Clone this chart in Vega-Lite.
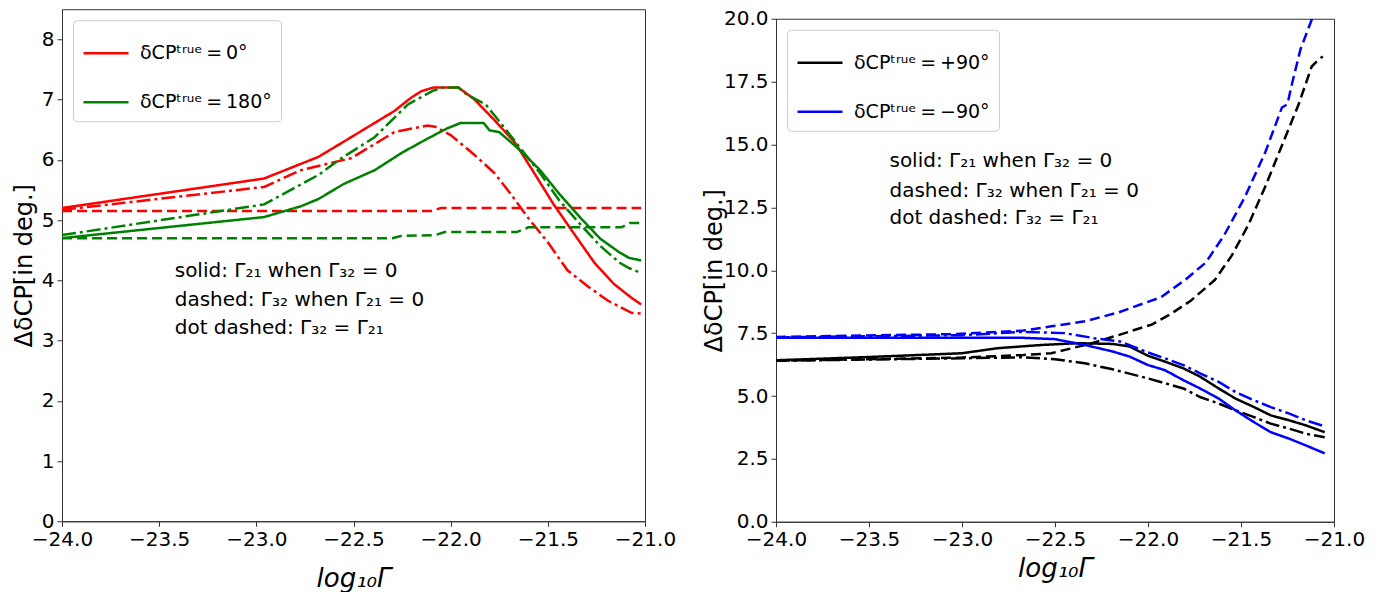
{
  "$schema": "https://vega.github.io/schema/vega-lite/v6.json",
  "padding": {"left": 11, "top": 8, "right": 5, "bottom": 5},
  "background": "white",
  "config": {
    "font": "DejaVu Sans",
    "view": {"stroke": "#333", "strokeWidth": 1},
    "axis": {"grid": false, "domainColor": "#333", "tickColor": "#333", "labelColor": "#000", "titleColor": "#000", "labelFont": "DejaVu Sans", "labelFontSize": 20, "titleFont": "DejaVu Sans", "titleFontWeight": "normal", "tickSize": 5, "labelPadding": 3, "labelFlush": false, "labelOverlap": false},
    "line": {"strokeWidth": 2.5}
  },
  "spacing": 24,
  "center": true,
  "resolve": {"scale": {"x": "independent", "y": "independent", "color": "independent"}, "axis": {"x": "independent", "y": "independent"}, "legend": {"color": "independent"}},
  "datasets": {
    "left": [
      {"c": "0", "s": "solid", "x": -24, "y": 5.2}, {"c": "0", "s": "solid", "x": -22.96, "y": 5.69}, {"c": "0", "s": "solid", "x": -22.68, "y": 6.05}, {"c": "0", "s": "solid", "x": -22.51, "y": 6.38}, {"c": "0", "s": "solid", "x": -22.29, "y": 6.81}, {"c": "0", "s": "solid", "x": -22.2, "y": 7.04}, {"c": "0", "s": "solid", "x": -22.15, "y": 7.14}, {"c": "0", "s": "solid", "x": -22.09, "y": 7.2}, {"c": "0", "s": "solid", "x": -21.96, "y": 7.2}, {"c": "0", "s": "solid", "x": -21.88, "y": 7.01}, {"c": "0", "s": "solid", "x": -21.775, "y": 6.66}, {"c": "0", "s": "solid", "x": -21.67, "y": 6.29}, {"c": "0", "s": "solid", "x": -21.57, "y": 5.78}, {"c": "0", "s": "solid", "x": -21.47, "y": 5.26}, {"c": "0", "s": "solid", "x": -21.36, "y": 4.75}, {"c": "0", "s": "solid", "x": -21.26, "y": 4.29}, {"c": "0", "s": "solid", "x": -21.16, "y": 3.94}, {"c": "0", "s": "solid", "x": -21.07, "y": 3.71}, {"c": "0", "s": "solid", "x": -21.02, "y": 3.6},
      {"c": "0", "s": "dashed", "x": -24, "y": 5.15}, {"c": "0", "s": "dashed", "x": -22.1, "y": 5.15}, {"c": "0", "s": "dashed", "x": -22.05, "y": 5.2}, {"c": "0", "s": "dashed", "x": -21.02, "y": 5.2},
      {"c": "0", "s": "dashdot", "x": -24, "y": 5.17}, {"c": "0", "s": "dashdot", "x": -22.96, "y": 5.55}, {"c": "0", "s": "dashdot", "x": -22.77, "y": 5.83}, {"c": "0", "s": "dashdot", "x": -22.51, "y": 6.03}, {"c": "0", "s": "dashdot", "x": -22.29, "y": 6.46}, {"c": "0", "s": "dashdot", "x": -22.12, "y": 6.57}, {"c": "0", "s": "dashdot", "x": -22.08, "y": 6.55}, {"c": "0", "s": "dashdot", "x": -22.0, "y": 6.41}, {"c": "0", "s": "dashdot", "x": -21.88, "y": 6.09}, {"c": "0", "s": "dashdot", "x": -21.775, "y": 5.78}, {"c": "0", "s": "dashdot", "x": -21.69, "y": 5.43}, {"c": "0", "s": "dashdot", "x": -21.6, "y": 5.03}, {"c": "0", "s": "dashdot", "x": -21.5, "y": 4.63}, {"c": "0", "s": "dashdot", "x": -21.4, "y": 4.17}, {"c": "0", "s": "dashdot", "x": -21.29, "y": 3.89}, {"c": "0", "s": "dashdot", "x": -21.19, "y": 3.66}, {"c": "0", "s": "dashdot", "x": -21.07, "y": 3.46}, {"c": "0", "s": "dashdot", "x": -21.02, "y": 3.45},
      {"c": "180", "s": "solid", "x": -24, "y": 4.7}, {"c": "180", "s": "solid", "x": -22.96, "y": 5.05}, {"c": "180", "s": "solid", "x": -22.77, "y": 5.23}, {"c": "180", "s": "solid", "x": -22.68, "y": 5.35}, {"c": "180", "s": "solid", "x": -22.55, "y": 5.6}, {"c": "180", "s": "solid", "x": -22.39, "y": 5.83}, {"c": "180", "s": "solid", "x": -22.25, "y": 6.12}, {"c": "180", "s": "solid", "x": -22.12, "y": 6.35}, {"c": "180", "s": "solid", "x": -22.02, "y": 6.52}, {"c": "180", "s": "solid", "x": -21.95, "y": 6.61}, {"c": "180", "s": "solid", "x": -21.83, "y": 6.61}, {"c": "180", "s": "solid", "x": -21.8, "y": 6.49}, {"c": "180", "s": "solid", "x": -21.75, "y": 6.46}, {"c": "180", "s": "solid", "x": -21.65, "y": 6.18}, {"c": "180", "s": "solid", "x": -21.54, "y": 5.83}, {"c": "180", "s": "solid", "x": -21.44, "y": 5.43}, {"c": "180", "s": "solid", "x": -21.33, "y": 5.03}, {"c": "180", "s": "solid", "x": -21.23, "y": 4.69}, {"c": "180", "s": "solid", "x": -21.13, "y": 4.46}, {"c": "180", "s": "solid", "x": -21.08, "y": 4.37}, {"c": "180", "s": "solid", "x": -21.02, "y": 4.33},
      {"c": "180", "s": "dashed", "x": -24, "y": 4.7}, {"c": "180", "s": "dashed", "x": -22.3, "y": 4.7}, {"c": "180", "s": "dashed", "x": -22.25, "y": 4.74}, {"c": "180", "s": "dashed", "x": -22.08, "y": 4.75}, {"c": "180", "s": "dashed", "x": -22.03, "y": 4.8}, {"c": "180", "s": "dashed", "x": -21.66, "y": 4.8}, {"c": "180", "s": "dashed", "x": -21.6, "y": 4.88}, {"c": "180", "s": "dashed", "x": -21.12, "y": 4.88}, {"c": "180", "s": "dashed", "x": -21.08, "y": 4.95}, {"c": "180", "s": "dashed", "x": -21.02, "y": 4.95},
      {"c": "180", "s": "dashdot", "x": -24, "y": 4.75}, {"c": "180", "s": "dashdot", "x": -22.96, "y": 5.26}, {"c": "180", "s": "dashdot", "x": -22.68, "y": 5.75}, {"c": "180", "s": "dashdot", "x": -22.57, "y": 6.01}, {"c": "180", "s": "dashdot", "x": -22.39, "y": 6.38}, {"c": "180", "s": "dashdot", "x": -22.22, "y": 6.92}, {"c": "180", "s": "dashdot", "x": -22.09, "y": 7.15}, {"c": "180", "s": "dashdot", "x": -22.04, "y": 7.2}, {"c": "180", "s": "dashdot", "x": -21.96, "y": 7.2}, {"c": "180", "s": "dashdot", "x": -21.92, "y": 7.09}, {"c": "180", "s": "dashdot", "x": -21.82, "y": 6.92}, {"c": "180", "s": "dashdot", "x": -21.75, "y": 6.64}, {"c": "180", "s": "dashdot", "x": -21.65, "y": 6.23}, {"c": "180", "s": "dashdot", "x": -21.54, "y": 5.78}, {"c": "180", "s": "dashdot", "x": -21.44, "y": 5.32}, {"c": "180", "s": "dashdot", "x": -21.33, "y": 4.92}, {"c": "180", "s": "dashdot", "x": -21.23, "y": 4.57}, {"c": "180", "s": "dashdot", "x": -21.13, "y": 4.29}, {"c": "180", "s": "dashdot", "x": -21.08, "y": 4.2}, {"c": "180", "s": "dashdot", "x": -21.02, "y": 4.12}
    ],
    "right": [
      {"c": "+90", "s": "solid", "x": -24, "y": 6.42}, {"c": "+90", "s": "solid", "x": -23.5, "y": 6.55}, {"c": "+90", "s": "solid", "x": -23.0, "y": 6.7}, {"c": "+90", "s": "solid", "x": -22.81, "y": 6.9}, {"c": "+90", "s": "solid", "x": -22.57, "y": 7.03}, {"c": "+90", "s": "solid", "x": -22.38, "y": 7.1}, {"c": "+90", "s": "solid", "x": -22.19, "y": 7.07}, {"c": "+90", "s": "solid", "x": -22.1, "y": 6.97}, {"c": "+90", "s": "solid", "x": -22.0, "y": 6.6}, {"c": "+90", "s": "solid", "x": -21.91, "y": 6.37}, {"c": "+90", "s": "solid", "x": -21.81, "y": 6.1}, {"c": "+90", "s": "solid", "x": -21.72, "y": 5.77}, {"c": "+90", "s": "solid", "x": -21.62, "y": 5.3}, {"c": "+90", "s": "solid", "x": -21.53, "y": 4.9}, {"c": "+90", "s": "solid", "x": -21.43, "y": 4.56}, {"c": "+90", "s": "solid", "x": -21.34, "y": 4.23}, {"c": "+90", "s": "solid", "x": -21.24, "y": 4.03}, {"c": "+90", "s": "solid", "x": -21.15, "y": 3.83}, {"c": "+90", "s": "solid", "x": -21.05, "y": 3.56},
      {"c": "+90", "s": "dashed", "x": -24, "y": 6.4}, {"c": "+90", "s": "dashed", "x": -23.0, "y": 6.53}, {"c": "+90", "s": "dashed", "x": -22.67, "y": 6.63}, {"c": "+90", "s": "dashed", "x": -22.52, "y": 6.7}, {"c": "+90", "s": "dashed", "x": -22.31, "y": 7.08}, {"c": "+90", "s": "dashed", "x": -22.16, "y": 7.42}, {"c": "+90", "s": "dashed", "x": -21.98, "y": 7.84}, {"c": "+90", "s": "dashed", "x": -21.88, "y": 8.25}, {"c": "+90", "s": "dashed", "x": -21.77, "y": 8.79}, {"c": "+90", "s": "dashed", "x": -21.64, "y": 9.62}, {"c": "+90", "s": "dashed", "x": -21.55, "y": 10.58}, {"c": "+90", "s": "dashed", "x": -21.46, "y": 11.81}, {"c": "+90", "s": "dashed", "x": -21.37, "y": 13.32}, {"c": "+90", "s": "dashed", "x": -21.28, "y": 14.96}, {"c": "+90", "s": "dashed", "x": -21.19, "y": 16.6}, {"c": "+90", "s": "dashed", "x": -21.12, "y": 18.1}, {"c": "+90", "s": "dashed", "x": -21.08, "y": 18.4}, {"c": "+90", "s": "dashed", "x": -21.06, "y": 18.5},
      {"c": "+90", "s": "dashdot", "x": -24, "y": 6.4}, {"c": "+90", "s": "dashdot", "x": -23.0, "y": 6.5}, {"c": "+90", "s": "dashdot", "x": -22.67, "y": 6.54}, {"c": "+90", "s": "dashdot", "x": -22.5, "y": 6.46}, {"c": "+90", "s": "dashdot", "x": -22.34, "y": 6.3}, {"c": "+90", "s": "dashdot", "x": -22.19, "y": 6.06}, {"c": "+90", "s": "dashdot", "x": -22.0, "y": 5.7}, {"c": "+90", "s": "dashdot", "x": -21.81, "y": 5.3}, {"c": "+90", "s": "dashdot", "x": -21.72, "y": 4.96}, {"c": "+90", "s": "dashdot", "x": -21.62, "y": 4.7}, {"c": "+90", "s": "dashdot", "x": -21.53, "y": 4.43}, {"c": "+90", "s": "dashdot", "x": -21.43, "y": 4.16}, {"c": "+90", "s": "dashdot", "x": -21.34, "y": 3.9}, {"c": "+90", "s": "dashdot", "x": -21.24, "y": 3.7}, {"c": "+90", "s": "dashdot", "x": -21.15, "y": 3.5}, {"c": "+90", "s": "dashdot", "x": -21.05, "y": 3.36},
      {"c": "−90", "s": "solid", "x": -24, "y": 7.32}, {"c": "−90", "s": "solid", "x": -22.69, "y": 7.32}, {"c": "−90", "s": "solid", "x": -22.5, "y": 7.26}, {"c": "−90", "s": "solid", "x": -22.34, "y": 7.03}, {"c": "−90", "s": "solid", "x": -22.19, "y": 6.77}, {"c": "−90", "s": "solid", "x": -22.1, "y": 6.57}, {"c": "−90", "s": "solid", "x": -22.0, "y": 6.23}, {"c": "−90", "s": "solid", "x": -21.91, "y": 6.03}, {"c": "−90", "s": "solid", "x": -21.81, "y": 5.63}, {"c": "−90", "s": "solid", "x": -21.72, "y": 5.3}, {"c": "−90", "s": "solid", "x": -21.62, "y": 4.9}, {"c": "−90", "s": "solid", "x": -21.53, "y": 4.43}, {"c": "−90", "s": "solid", "x": -21.43, "y": 3.96}, {"c": "−90", "s": "solid", "x": -21.34, "y": 3.56}, {"c": "−90", "s": "solid", "x": -21.24, "y": 3.3}, {"c": "−90", "s": "solid", "x": -21.15, "y": 3.03}, {"c": "−90", "s": "solid", "x": -21.05, "y": 2.72},
      {"c": "−90", "s": "dashed", "x": -24, "y": 7.35}, {"c": "−90", "s": "dashed", "x": -23.05, "y": 7.46}, {"c": "−90", "s": "dashed", "x": -22.67, "y": 7.6}, {"c": "−90", "s": "dashed", "x": -22.52, "y": 7.77}, {"c": "−90", "s": "dashed", "x": -22.34, "y": 7.97}, {"c": "−90", "s": "dashed", "x": -22.16, "y": 8.32}, {"c": "−90", "s": "dashed", "x": -21.93, "y": 8.93}, {"c": "−90", "s": "dashed", "x": -21.8, "y": 9.62}, {"c": "−90", "s": "dashed", "x": -21.69, "y": 10.3}, {"c": "−90", "s": "dashed", "x": -21.59, "y": 11.4}, {"c": "−90", "s": "dashed", "x": -21.48, "y": 12.9}, {"c": "−90", "s": "dashed", "x": -21.37, "y": 14.68}, {"c": "−90", "s": "dashed", "x": -21.28, "y": 16.47}, {"c": "−90", "s": "dashed", "x": -21.25, "y": 16.6}, {"c": "−90", "s": "dashed", "x": -21.23, "y": 17.29}, {"c": "−90", "s": "dashed", "x": -21.18, "y": 18.79}, {"c": "−90", "s": "dashed", "x": -21.12, "y": 19.96}, {"c": "−90", "s": "dashed", "x": -21.1, "y": 20.5},
      {"c": "−90", "s": "dashdot", "x": -24, "y": 7.33}, {"c": "−90", "s": "dashdot", "x": -23.0, "y": 7.42}, {"c": "−90", "s": "dashdot", "x": -22.67, "y": 7.55}, {"c": "−90", "s": "dashdot", "x": -22.45, "y": 7.5}, {"c": "−90", "s": "dashdot", "x": -22.29, "y": 7.3}, {"c": "−90", "s": "dashdot", "x": -22.15, "y": 7.17}, {"c": "−90", "s": "dashdot", "x": -22.0, "y": 6.73}, {"c": "−90", "s": "dashdot", "x": -21.91, "y": 6.5}, {"c": "−90", "s": "dashdot", "x": -21.81, "y": 6.23}, {"c": "−90", "s": "dashdot", "x": -21.72, "y": 5.9}, {"c": "−90", "s": "dashdot", "x": -21.62, "y": 5.56}, {"c": "−90", "s": "dashdot", "x": -21.53, "y": 5.16}, {"c": "−90", "s": "dashdot", "x": -21.43, "y": 4.83}, {"c": "−90", "s": "dashdot", "x": -21.34, "y": 4.56}, {"c": "−90", "s": "dashdot", "x": -21.24, "y": 4.3}, {"c": "−90", "s": "dashdot", "x": -21.15, "y": 4.03}, {"c": "−90", "s": "dashdot", "x": -21.05, "y": 3.79}
    ],
    "notesL": [
      {"x": -23.42, "y": 4.15, "t": "solid: Γ₂₁ when Γ₃₂ = 0"},
      {"x": -23.42, "y": 3.68, "t": "dashed: Γ₃₂ when Γ₂₁ = 0"},
      {"x": -23.42, "y": 3.2, "t": "dot dashed: Γ₃₂ = Γ₂₁"}
    ],
    "notesR": [
      {"x": -23.39, "y": 14.35, "t": "solid: Γ₂₁ when Γ₃₂ = 0"},
      {"x": -23.39, "y": 13.16, "t": "dashed: Γ₃₂ when Γ₂₁ = 0"},
      {"x": -23.39, "y": 12.09, "t": "dot dashed: Γ₃₂ = Γ₂₁"}
    ]
  },
  "hconcat": [
    {
      "width": 583,
      "height": 512,
      "layer": [
        {
          "data": {"name": "left"},
          "mark": {"type": "line", "clip": true, "strokeWidth": 2.5},
          "encoding": {
            "x": {"field": "x", "type": "quantitative", "scale": {"domain": [-24, -21], "nice": false, "zero": false}, "axis": {"title": "log₁₀Γ", "titleFontSize": 26, "titleFontStyle": "italic", "values": [-24, -23.5, -23, -22.5, -22, -21.5, -21], "format": ".1f", "titlePadding": 16}},
            "y": {"field": "y", "type": "quantitative", "scale": {"domain": [0, 8.5], "nice": false}, "axis": {"title": "ΔδCP[in deg.]", "titleFontSize": 24, "values": [0, 1, 2, 3, 4, 5, 6, 7, 8], "format": "d", "minExtent": 21, "maxExtent": 21, "titlePadding": 5}},
            "color": {"field": "c", "type": "nominal", "scale": {"domain": ["0", "180"], "range": ["#ff0000", "#008000"]}, "legend": {"title": null, "orient": "top-left", "offset": 11, "labelExpr": "'δCPᵗʳᵘᵉ\u2009=\u2009' + datum.label + '°'", "symbolType": "stroke", "symbolSize": 2025, "symbolStrokeWidth": 2.5, "labelFontSize": 19, "labelFont": "DejaVu Sans", "labelColor": "#000", "rowPadding": 15, "padding": 9, "fillColor": "white", "strokeColor": "#cccccc", "cornerRadius": 4, "labelLimit": 0, "labelOffset": 10}},
            "strokeDash": {"field": "s", "type": "nominal", "scale": {"domain": ["solid", "dashed", "dashdot"], "range": [[1, 0], [10, 5], [14, 4, 3, 4]]}, "legend": null}
          }
        },
        {
          "data": {"name": "notesL"},
          "mark": {"type": "text", "align": "left", "baseline": "middle", "fontSize": 20, "font": "DejaVu Sans", "color": "#000"},
          "encoding": {
            "x": {"field": "x", "type": "quantitative"},
            "y": {"field": "y", "type": "quantitative"},
            "text": {"field": "t"}
          }
        }
      ]
    },
    {
      "width": 558,
      "height": 503,
      "layer": [
        {
          "data": {"name": "right"},
          "mark": {"type": "line", "clip": true, "strokeWidth": 2.5},
          "encoding": {
            "x": {"field": "x", "type": "quantitative", "scale": {"domain": [-24, -21], "nice": false, "zero": false}, "axis": {"title": "log₁₀Γ", "titleFontSize": 26, "titleFontStyle": "italic", "values": [-24, -23.5, -23, -22.5, -22, -21.5, -21], "format": ".1f", "titlePadding": 6}},
            "y": {"field": "y", "type": "quantitative", "scale": {"domain": [0, 20], "nice": false}, "axis": {"title": "ΔδCP[in deg.]", "titleFontSize": 24, "values": [0, 2.5, 5, 7.5, 10, 12.5, 15, 17.5, 20], "format": ".1f", "minExtent": 48, "maxExtent": 48, "titlePadding": 2}},
            "color": {"field": "c", "type": "nominal", "scale": {"domain": ["+90", "−90"], "range": ["#000000", "#0000ff"]}, "legend": {"title": null, "orient": "top-left", "offset": 11, "labelExpr": "'δCPᵗʳᵘᵉ\u2009=\u2009' + datum.label + '°'", "symbolType": "stroke", "symbolSize": 2025, "symbolStrokeWidth": 2.5, "labelFontSize": 19, "labelFont": "DejaVu Sans", "labelColor": "#000", "rowPadding": 15, "padding": 9, "fillColor": "white", "strokeColor": "#cccccc", "cornerRadius": 4, "labelLimit": 0, "labelOffset": 10}},
            "strokeDash": {"field": "s", "type": "nominal", "scale": {"domain": ["solid", "dashed", "dashdot"], "range": [[1, 0], [10, 5], [14, 4, 3, 4]]}, "legend": null}
          }
        },
        {
          "data": {"name": "notesR"},
          "mark": {"type": "text", "align": "left", "baseline": "middle", "fontSize": 20, "font": "DejaVu Sans", "color": "#000"},
          "encoding": {
            "x": {"field": "x", "type": "quantitative"},
            "y": {"field": "y", "type": "quantitative"},
            "text": {"field": "t"}
          }
        }
      ]
    }
  ]
}
